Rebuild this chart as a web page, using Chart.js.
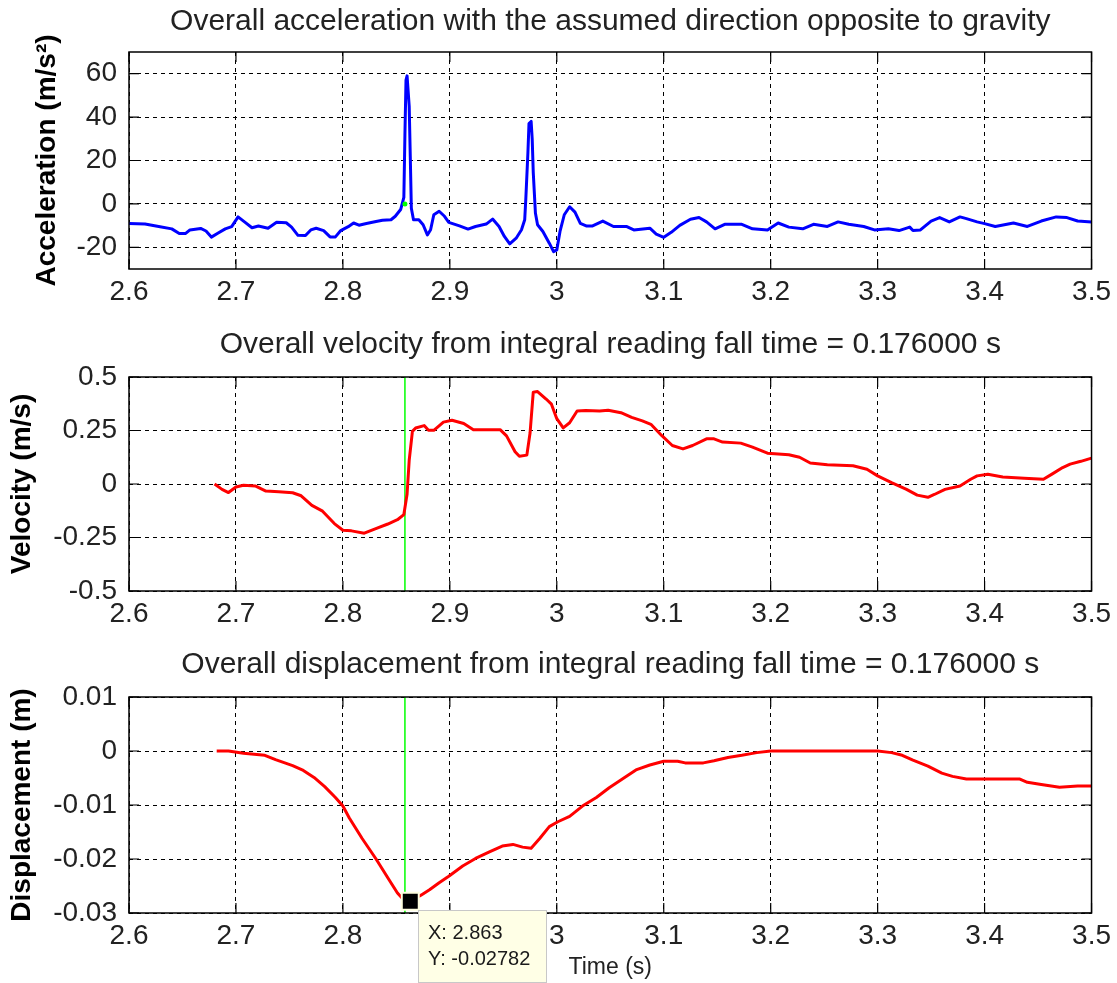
<!DOCTYPE html>
<html>
<head>
<meta charset="utf-8">
<title>Fall acceleration, velocity and displacement</title>
<script src="https://cdn.jsdelivr.net/npm/chart.js@4.4.1/dist/chart.umd.min.js"></script>
<style>
  html, body { margin: 0; padding: 0; background: #fff; }
  .panel { position: absolute; left: 0; }
</style>
</head>
<body>
<div class="panel" style="top:0"><canvas id="accChart" width="1117" height="310"></canvas></div>
<div class="panel" style="top:310px"><canvas id="velChart" width="1117" height="320"></canvas></div>
<div class="panel" style="top:630px"><canvas id="dispChart" width="1117" height="353"></canvas></div>
<script>
// time axis (s)
var timeTicks = [2.6, 2.7, 2.8, 2.9, 3.0, 3.1, 3.2, 3.3, 3.4, 3.5];

// acceleration (m/s^2)
var accTime = [2.600, 2.615, 2.629, 2.640, 2.647, 2.653, 2.657, 2.667, 2.672, 2.677, 2.683, 2.690, 2.696, 2.702, 2.708,
  2.715, 2.721, 2.730, 2.738, 2.747, 2.752, 2.758, 2.765, 2.770, 2.775, 2.782, 2.788, 2.793, 2.798, 2.805,
  2.810, 2.815, 2.822, 2.831, 2.837, 2.845, 2.849, 2.854, 2.857, 2.858, 2.859, 2.860, 2.861, 2.862, 2.863,
  2.864, 2.866, 2.871, 2.875, 2.879, 2.882, 2.885, 2.890, 2.895, 2.899, 2.909, 2.917, 2.924, 2.934, 2.940,
  2.946, 2.951, 2.956, 2.962, 2.967, 2.970, 2.971, 2.973, 2.974, 2.976, 2.977, 2.978, 2.980, 2.982, 2.987,
  2.993, 2.997, 3.000, 3.003, 3.007, 3.012, 3.017, 3.022, 3.028, 3.033, 3.043, 3.053, 3.065, 3.072, 3.087,
  3.093, 3.100, 3.107, 3.115, 3.125, 3.133, 3.140, 3.148, 3.157, 3.173, 3.183, 3.197, 3.207, 3.217, 3.230,
  3.240, 3.253, 3.263, 3.273, 3.287, 3.297, 3.310, 3.320, 3.330, 3.333, 3.340, 3.350, 3.358, 3.367, 3.377,
  3.383, 3.393, 3.400, 3.410, 3.427, 3.440, 3.453, 3.467, 3.477, 3.487, 3.500];
var accValues = [-9.0, -9.3, -10.5, -11.5, -13.6, -13.6, -12.0, -11.3, -12.5, -15.3, -13.5, -11.5, -10.5, -6.0, -8.3,
  -11.0, -10.2, -11.2, -8.5, -8.7, -10.7, -14.5, -14.6, -12.0, -11.2, -12.3, -15.2, -15.2, -12.3, -10.5,
  -8.8, -9.8, -9.0, -8.1, -7.5, -7.3, -5.7, -2.6, 3.0, 32.0, 57.0, 59.0, 52.0, 45.0, 22.0,
  -2.0, -7.3, -7.3, -9.6, -14.3, -11.9, -5.0, -3.4, -5.7, -8.5, -10.1, -11.6, -10.4, -9.3, -7.0,
  -10.4, -15.0, -18.4, -15.8, -11.9, -7.3, 2.0, 23.7, 37.0, 38.0, 30.0, 14.4, -4.2, -9.6, -12.7,
  -18.1, -22.0, -21.2, -12.7, -5.0, -1.3, -3.8, -9.0, -10.2, -10.2, -7.9, -10.4, -10.4, -12.0, -11.2,
  -13.9, -15.4, -13.1, -9.9, -7.1, -6.3, -8.3, -11.5, -9.4, -9.4, -11.5, -12.0, -8.8, -10.7, -11.5,
  -9.4, -10.4, -8.3, -9.4, -10.4, -12.0, -11.5, -12.3, -10.7, -12.3, -12.0, -7.9, -6.3, -8.3, -6.0,
  -6.8, -8.3, -9.1, -10.4, -8.8, -10.4, -7.9, -6.0, -6.3, -7.9, -8.3];
var accTicks = [-20, 0, 20, 40, 60];
var accLimits = [-30, 70];

// velocity (m/s)
var velTime = [2.680, 2.687, 2.693, 2.700, 2.707, 2.718, 2.728, 2.740, 2.753, 2.761, 2.771, 2.781, 2.792, 2.800, 2.808,
  2.820, 2.832, 2.842, 2.851, 2.857, 2.860, 2.862, 2.865, 2.868, 2.876, 2.880, 2.885, 2.894, 2.902, 2.913,
  2.922, 2.947, 2.953, 2.961, 2.965, 2.972, 2.975, 2.978, 2.982, 2.990, 2.995, 3.000, 3.006, 3.012, 3.019,
  3.027, 3.040, 3.048, 3.060, 3.070, 3.080, 3.088, 3.098, 3.108, 3.118, 3.127, 3.140, 3.147, 3.155, 3.172,
  3.183, 3.197, 3.217, 3.227, 3.237, 3.253, 3.277, 3.290, 3.300, 3.313, 3.327, 3.337, 3.347, 3.353, 3.363,
  3.377, 3.387, 3.393, 3.403, 3.417, 3.437, 3.455, 3.463, 3.473, 3.480, 3.490, 3.500];
var velValues = [0.000, -0.025, -0.040, -0.014, -0.006, -0.009, -0.033, -0.036, -0.041, -0.055, -0.100, -0.127, -0.185, -0.216, -0.219,
  -0.230, -0.206, -0.187, -0.167, -0.143, -0.048, 0.111, 0.246, 0.262, 0.273, 0.251, 0.251, 0.289, 0.298, 0.283,
  0.254, 0.254, 0.225, 0.151, 0.130, 0.135, 0.238, 0.429, 0.432, 0.397, 0.373, 0.305, 0.262, 0.286, 0.341,
  0.343, 0.341, 0.345, 0.333, 0.311, 0.295, 0.279, 0.227, 0.180, 0.164, 0.180, 0.211, 0.211, 0.196, 0.191,
  0.172, 0.144, 0.137, 0.125, 0.098, 0.090, 0.085, 0.069, 0.038, 0.006, -0.025, -0.052, -0.062, -0.049, -0.025,
  -0.009, 0.022, 0.038, 0.046, 0.033, 0.027, 0.022, 0.046, 0.077, 0.093, 0.106, 0.121];
var velTicks = [-0.5, -0.25, 0, 0.25, 0.5];
var velLimits = [-0.5, 0.5];

// displacement (m)
var dispTime = [2.682, 2.693, 2.707, 2.727, 2.737, 2.753, 2.763, 2.773, 2.783, 2.793, 2.800, 2.806, 2.818, 2.831, 2.843,
  2.851, 2.857, 2.863, 2.873, 2.881, 2.890, 2.899, 2.912, 2.924, 2.937, 2.949, 2.959, 2.968, 2.976, 2.984,
  2.993, 3.001, 3.012, 3.024, 3.037, 3.049, 3.062, 3.074, 3.087, 3.100, 3.113, 3.120, 3.137, 3.147, 3.160,
  3.173, 3.187, 3.200, 3.300, 3.313, 3.323, 3.333, 3.347, 3.360, 3.370, 3.383, 3.433, 3.440, 3.453, 3.470,
  3.487, 3.500];
var dispValues = [0.0000, 0.0000, -0.0004, -0.0008, -0.0016, -0.0027, -0.0036, -0.0049, -0.0066, -0.0086, -0.0102, -0.0124, -0.0162, -0.0200, -0.0238,
  -0.0263, -0.0276, -0.02782, -0.0267, -0.0257, -0.0244, -0.0232, -0.0213, -0.0199, -0.0187, -0.0176, -0.0173, -0.0178, -0.0180, -0.0162,
  -0.0140, -0.0131, -0.0121, -0.0102, -0.0086, -0.0068, -0.0051, -0.0035, -0.0026, -0.0019, -0.0019, -0.0022, -0.0022, -0.0018, -0.0012,
  -0.0008, -0.0003, 0.0000, 0.0000, -0.0003, -0.0008, -0.0017, -0.0028, -0.0041, -0.0047, -0.0052, -0.0052, -0.0058, -0.0062, -0.0067,
  -0.0065, -0.0065];
var dispTicks = [-0.03, -0.02, -0.01, 0, 0.01];
var dispLimits = [-0.03, 0.01];

// fall start marker and data tip
var fallStart = 2.858;
var tipTime = 2.863;
var tipValue = -0.02782;

var fontFamily = "'Liberation Sans', Arial, Helvetica, sans-serif";
Chart.defaults.font.family = fontFamily;
Chart.defaults.color = "#222";

function toPoints(xs, ys) {
  return xs.map(function (x, i) { return { x: x, y: ys[i] }; });
}

// box round the axes with short solid tick marks pointing inward
var boxPlugin = {
  id: "box",
  afterDatasetsDraw: function (chart) {
    var ctx = chart.ctx, a = chart.chartArea;
    var xs = chart.scales.x, ys = chart.scales.y;
    ctx.save();
    ctx.strokeStyle = "#000";
    ctx.lineWidth = 1.2;
    ctx.beginPath();
    xs.ticks.forEach(function (t) {
      var px = xs.getPixelForValue(t.value);
      ctx.moveTo(px, a.top); ctx.lineTo(px, a.top + 10);
      ctx.moveTo(px, a.bottom); ctx.lineTo(px, a.bottom - 10);
    });
    ys.ticks.forEach(function (t) {
      var py = ys.getPixelForValue(t.value);
      ctx.moveTo(a.left, py); ctx.lineTo(a.left + 10, py);
      ctx.moveTo(a.right, py); ctx.lineTo(a.right - 10, py);
    });
    ctx.stroke();
    ctx.lineWidth = 1.5;
    ctx.strokeRect(a.left, a.top, a.right - a.left, a.bottom - a.top);
    ctx.restore();
  }
};

// MATLAB style data tip on the displacement minimum
var tipPlugin = {
  id: "tip",
  afterDraw: function (chart) {
    var ctx = chart.ctx;
    var px = chart.scales.x.getPixelForValue(tipTime);
    var py = chart.scales.y.getPixelForValue(tipValue);
    var bx = Math.round(px + 8), by = Math.round(py + 9), bw = 129, bh = 73;
    ctx.save();
    ctx.fillStyle = "#ffffe6";
    ctx.fillRect(bx, by, bw, bh);
    ctx.strokeStyle = "#c8c8c8";
    ctx.lineWidth = 1;
    ctx.strokeRect(bx + 0.5, by + 0.5, bw - 1, bh - 1);
    ctx.fillStyle = "#1a1a1a";
    ctx.font = "20px " + fontFamily;
    ctx.textBaseline = "middle";
    ctx.fillText("X: " + tipTime, bx + 10, by + 23);
    ctx.fillText("Y: " + tipValue, bx + 10, by + 49);
    ctx.restore();
  }
};

function makeOptions(cfg) {
  return {
    responsive: false,
    animation: false,
    events: [],
    layout: { padding: { left: 0, right: 24, top: 0, bottom: 0 } },
    plugins: {
      legend: { display: false },
      tooltip: { enabled: false },
      title: {
        display: true,
        fullSize: false,
        text: cfg.title,
        color: "#222",
        font: { size: 30, weight: "normal" },
        padding: { top: cfg.titleTop, bottom: cfg.titleBottom }
      }
    },
    scales: {
      x: {
        type: "linear",
        min: timeTicks[0],
        max: timeTicks[timeTicks.length - 1],
        afterBuildTicks: function (s) { s.ticks = timeTicks.map(function (v) { return { value: v }; }); },
        afterFit: function (s) { s.height = cfg.xHeight; },
        grid: { color: "#000", lineWidth: 1, drawTicks: false },
        border: { display: false, dash: [4, 4] },
        ticks: {
          padding: 6,
          maxRotation: 0,
          autoSkip: false,
          color: "#222",
          font: { size: 28 },
          callback: function (v) { return String(Number(v.toFixed(2))); }
        },
        title: {
          display: !!cfg.xTitle,
          text: cfg.xTitle || "",
          color: "#222",
          font: { size: 23, weight: "normal" },
          padding: { top: 0, bottom: 2 }
        }
      },
      y: {
        type: "linear",
        min: cfg.limits[0],
        max: cfg.limits[1],
        afterBuildTicks: function (s) { s.ticks = cfg.ticks.map(function (v) { return { value: v }; }); },
        afterFit: function (s) { s.width = 129; },
        grid: { color: "#000", lineWidth: 1, drawTicks: false },
        border: { display: false, dash: [4, 4] },
        ticks: {
          padding: 12,
          autoSkip: false,
          color: "#222",
          font: { size: 28 },
          callback: function (v) { return String(v); }
        },
        title: {
          display: true,
          text: cfg.yTitle,
          color: "#000",
          font: { size: 28, weight: "bold" },
          padding: { top: cfg.yTitlePad, bottom: 0 }
        }
      }
    }
  };
}

new Chart("accChart", {
  type: "line",
  data: {
    datasets: [{
      data: [{ x: fallStart, y: 0 }],
      showLine: false,
      pointRadius: 2.5,
      pointBackgroundColor: "#00ff00",
      pointBorderWidth: 0
    }, {
      data: toPoints(accTime, accValues),
      borderColor: "#0000ff",
      borderWidth: 3,
      borderJoinStyle: "round",
      pointRadius: 0,
      tension: 0
    }]
  },
  options: makeOptions({
    title: "Overall acceleration with the assumed direction opposite to gravity",
    titleTop: 4, titleBottom: 12,
    xHeight: 41,
    ticks: accTicks, limits: accLimits,
    yTitle: "Acceleration (m/s\u00b2)", yTitlePad: 30
  }),
  plugins: [boxPlugin]
});

new Chart("velChart", {
  type: "line",
  data: {
    datasets: [{
      data: toPoints(velTime, velValues),
      borderColor: "#ff0000",
      borderWidth: 3,
      borderJoinStyle: "round",
      pointRadius: 0,
      tension: 0
    }, {
      data: [{ x: fallStart, y: velLimits[0] }, { x: fallStart, y: velLimits[1] }],
      borderColor: "#00ff00",
      borderWidth: 1.5,
      pointRadius: 0
    }]
  },
  options: makeOptions({
    title: "Overall velocity from integral reading fall time = 0.176000 s",
    titleTop: 17, titleBottom: 14,
    xHeight: 39,
    ticks: velTicks, limits: velLimits,
    yTitle: "Velocity (m/s)", yTitlePad: 5
  }),
  plugins: [boxPlugin]
});

new Chart("dispChart", {
  type: "line",
  data: {
    datasets: [{
      data: [{ x: tipTime, y: tipValue }],
      showLine: false,
      clip: false,
      pointStyle: "rect",
      pointRadius: 12,
      pointBackgroundColor: "#000",
      pointBorderColor: "#ffffe0",
      pointBorderWidth: 2
    }, {
      data: toPoints(dispTime, dispValues),
      borderColor: "#ff0000",
      borderWidth: 3,
      borderJoinStyle: "round",
      pointRadius: 0,
      tension: 0
    }, {
      data: [{ x: fallStart, y: dispLimits[0] }, { x: fallStart, y: dispLimits[1] }],
      borderColor: "#00ff00",
      borderWidth: 1.5,
      pointRadius: 0
    }]
  },
  options: makeOptions({
    title: "Overall displacement from integral reading fall time = 0.176000 s",
    titleTop: 17, titleBottom: 14,
    xHeight: 70,
    xTitle: "Time (s)",
    ticks: dispTicks, limits: dispLimits,
    yTitle: "Displacement (m)", yTitlePad: 5
  }),
  plugins: [boxPlugin, tipPlugin]
});
</script>
</body>
</html>
